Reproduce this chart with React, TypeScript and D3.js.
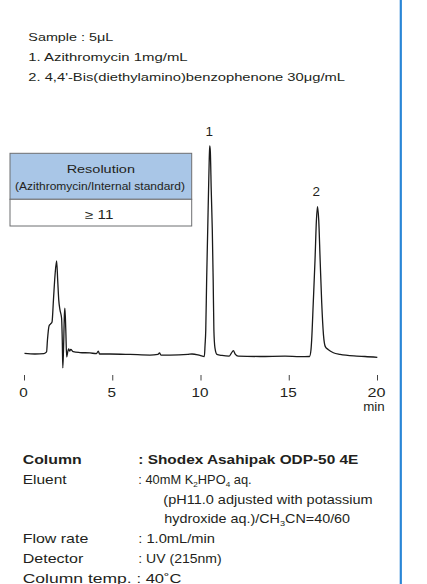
import React from 'react';
import * as d3 from 'd3';

// chromatogram trace (min, relative signal)
const retentionTimes = [
  0.0, 0.59, 1.1, 1.25, 1.3, 1.39, 1.47, 1.56, 1.64, 1.73, 1.82, 1.88, 1.94, 2.01, 2.1, 2.14, 2.17, 2.21,
  2.26, 2.29, 2.34, 2.39, 2.45, 2.5, 2.56, 2.62, 2.76, 3.14, 3.71, 4.08, 4.18, 4.25, 4.84, 5.98, 7.11,
  7.56, 7.65, 7.73, 8.24, 9.26, 9.49, 9.94, 10.19, 10.23, 10.27, 10.32, 10.38, 10.44, 10.48, 10.5, 10.53,
  10.58, 10.64, 10.69, 10.73, 10.79, 10.9, 11.19, 11.59, 11.73, 11.83, 11.95, 12.1, 13.34, 14.76, 15.61,
  16.15, 16.23, 16.27, 16.36, 16.46, 16.54, 16.6, 16.67, 16.75, 16.84, 16.94, 17.05, 17.2, 17.5, 17.88,
  18.82, 19.29, 19.99,
];
const detectorSignal = [
  0.3, 0, 0.2, 1.0, 6.7, 13.5, 14.4, 15.4, 26, 38, 44.7, 35.6, 26, 21.2, 17.3, 6.7, -6.7, 1.9,
  18.8, 22.1, 11.5, -1.4, 1.0, 2.4, 1.4, 2.2, 1.1, 0.7, 0.5, 0.2, 1.4, 0, 0, -0.2, -0.5,
  -0.2, 0.5, -0.5, -0.5, -0.2, 0, -0.7, -1.2, 4.3, 11.5, 35.6, 59.6, 83.7, 97.1, 100, 97.1,
  78.8, 59.6, 35.6, 11.5, 2.9, -0.2, -0.7, -1.0, 0.5, 1.6, -0.2, -1.0, -1.2, -1.0, -1.3,
  -1.2, 1.9, 6.7, 24.5, 45.2, 64.4, 70.8, 64.4, 45.2, 24.5, 9.1, 3.4, 2.2, 0.6, -0.2,
  -1.0, -1.2, -1.6,
];

const peakLabels = ['1', '2'];
const peakTimes = [10.49, 16.56];
const peakHeights = [100, 70.8];

const timeTicks = [0, 5, 10, 15, 20];

const sampleLines = ['Sample : 5μL', '1. Azithromycin 1mg/mL', "2. 4,4'-Bis(diethylamino)benzophenone 30μg/mL"];
const resolutionTitle = 'Resolution';
const resolutionSub = '(Azithromycin/Internal standard)';
const resolutionValue = '≥ 11';

const FONT = "'Liberation Sans', Arial, Helvetica, sans-serif";
const INK = '#231f20';

// text stretched to the measured width, or scaled horizontally by sx
const T = ({ x, y, w, sx, size, anchor = 'start', weight = 'normal', children }: any) => {
  if (sx) {
    return (
      <text transform={`translate(${x},${y}) scale(${sx},1)`} fontSize={size} fontFamily={FONT}
        fontWeight={weight} fill={INK} textAnchor={anchor}>
        {children}
      </text>
    );
  }
  return (
    <text x={x} y={y} fontSize={size} fontFamily={FONT} fontWeight={weight} fill={INK}
      textAnchor={anchor} textLength={w} lengthAdjust="spacingAndGlyphs">
      {children}
    </text>
  );
};

const Sub = ({ children }: any) => (
  <tspan fontSize="8" dy="3">{children}</tspan>
);
const Up = ({ children }: any) => (
  <tspan dy="-3">{children}</tspan>
);

export default function App() {
  const x = d3.scaleLinear().domain([0, 20]).range([24.5, 377.5]);
  const y = d3.scaleLinear().domain([0, 100]).range([354, 146]);

  const pts: [number, number][] = retentionTimes.map((t, i) => [t, detectorSignal[i]]);
  const line = d3.line<[number, number]>()
    .x(d => x(d[0]))
    .y(d => y(d[1]))
    .curve(d3.curveMonotoneX);

  const sampleWidths = [85, 159.4, 316.7];
  const tickWidths = [8.5, 8.5, 17, 17, 18];

  return (
    <svg width={427} height={584} style={{ position: 'absolute', left: 0, top: 0, background: '#fff' }}>
      {/* sample description */}
      {sampleLines.map((s, i) => (
        <T key={s} x={28.3} y={40.7 + i * 20.2} w={sampleWidths[i]} size={11.8}>{s}</T>
      ))}

      {/* resolution box */}
      <rect x={10} y={153.3} width={181.7} height={46} fill="#a9c6e7" stroke="#6d6e71" strokeWidth={1} />
      <rect x={10} y={199.3} width={181.7} height={26.7} fill="#fff" stroke="#6d6e71" strokeWidth={1} />
      <T x={100.8} y={173.3} w={68.3} size={11.8} anchor="middle">{resolutionTitle}</T>
      <T x={100} y={189.5} w={170} size={10.6} anchor="middle">{resolutionSub}</T>
      <T x={99.2} y={218.5} w={28.3} size={12} anchor="middle">{resolutionValue}</T>

      {/* chromatogram */}
      <path d={line(pts) || ''} fill="none" stroke="#1a1a1a" strokeWidth={1.3} strokeLinejoin="round" />
      {peakLabels.map((p, i) => (
        <T key={p} x={x(peakTimes[i]) - 0.5} y={y(peakHeights[i]) - 10.5} w={7.5} size={12.5} anchor="middle">{p}</T>
      ))}

      {/* time axis */}
      {timeTicks.map((t, i) => (
        <g key={t}>
          <line x1={x(t)} x2={x(t)} y1={375} y2={380.5} stroke="#444" strokeWidth={1} />
          <T x={x(t) - 1} y={396.5} w={tickWidths[i]} size={12.2} anchor="middle">{String(t)}</T>
        </g>
      ))}
      <T x={374} y={410.5} w={21.5} size={12.2} anchor="middle">min</T>

      {/* conditions */}
      <T x={22.7} y={464} w={59} size={12.6} weight="bold">Column</T>
      <T x={138.3} y={464} w={220} size={12.6} weight="bold">: Shodex Asahipak ODP-50 4E</T>
      <T x={22.7} y={484} w={44} size={12.6}>Eluent</T>
      <T x={138.3} y={484} sx={1.02} size={12.6}>: 40mM K<Sub>2</Sub><Up>HPO</Up><Sub>4</Sub><Up> aq.</Up></T>
      <T x={163.3} y={503.6} w={209.4} size={12.6}>(pH11.0 adjusted with potassium</T>
      <T x={164.3} y={523.4} sx={1.14} size={12.6}>hydroxide aq.)/CH<Sub>3</Sub><Up>CN=40/60</Up></T>
      <T x={22.7} y={543.3} w={65.6} size={12.6}>Flow rate</T>
      <T x={138.3} y={543.3} w={76.7} size={12.6}>: 1.0mL/min</T>
      <T x={22.7} y={563.3} w={60.6} size={12.6}>Detector</T>
      <T x={138.3} y={563.3} w={83.4} size={12.6}>: UV (215nm)</T>
      <T x={22.7} y={583} w={109} size={12.6}>Column temp.</T>
      <T x={136.5} y={583} w={45} size={12.6}>: 40˚C</T>

      {/* page edge rule */}
      <line x1={400.8} x2={400.8} y1={0} y2={584} stroke="#2a86d6" strokeWidth={2.2} />
    </svg>
  );
}
